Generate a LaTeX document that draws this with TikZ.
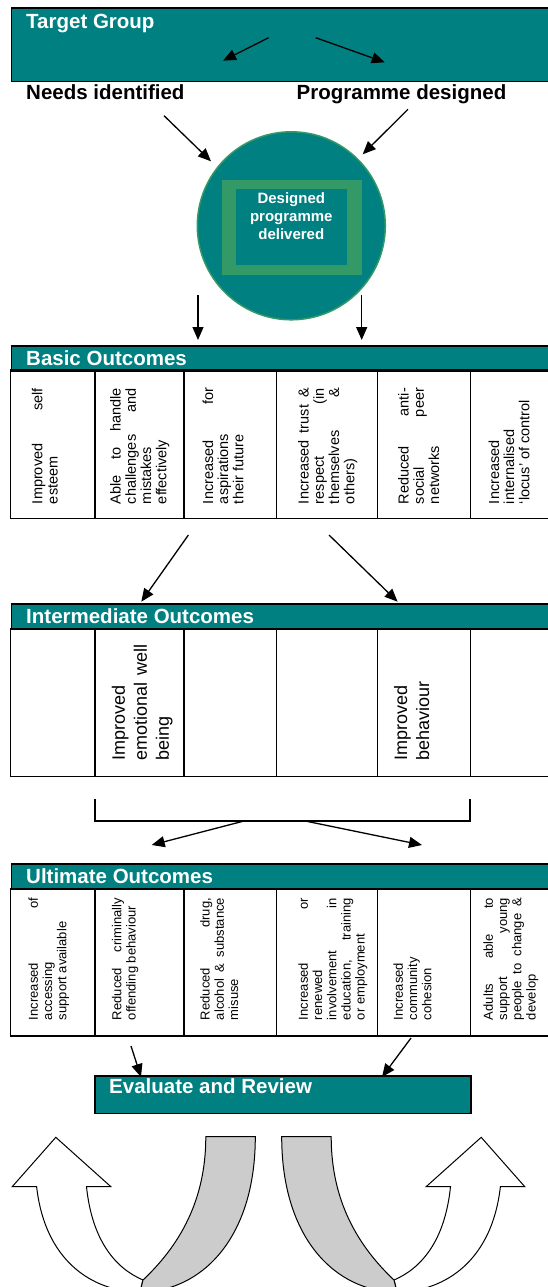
\documentclass[tikz,border=0pt]{standalone}
\usepackage{fontspec}
\setmainfont{Liberation Sans}
\usepackage{graphicx}
\usetikzlibrary{positioning,calc,arrows.meta,shapes}

\definecolor{boxteal}{RGB}{0,128,128}
\definecolor{framegreen}{RGB}{51,153,102}
\definecolor{ribbongray}{RGB}{204,204,204}

\tikzset{
    bar/.style={draw=black, line width=1.5pt, fill=boxteal, anchor=north west, inner sep=0pt},
    bartext/.style={anchor=base west, inner sep=0pt, text=white, font=\fontsize{20.5}{24}\selectfont\bfseries},
    plaintext/.style={anchor=base west, inner sep=0pt, font=\fontsize{20.5}{24}\selectfont\bfseries},
    flow/.style={line width=1.3pt, -{Triangle[length=13pt,width=11pt]}},
    cell/.style={rotate=90, anchor=north, inner sep=0pt, align=justify},
    basiccell/.style={cell, text width=116pt, font=\fontsize{14.5}{15.2}\selectfont},
    midcell/.style={cell, text width=116pt, font=\fontsize{18}{22}\selectfont},
    lastcell/.style={cell, text width=122pt, font=\fontsize{13}{14.2}\selectfont},
    ribbon/.style={draw=black, line width=1pt},
}

\begin{document}
\begin{tikzpicture}[x=1pt, y=-1pt]
    \useasboundingbox (0,0) rectangle (547,1287);

    \node[bar, minimum width=560pt, minimum height=73.5pt] (target) at (10.5,7.5) {};
    \node[bartext] (targetlabel) at (26,28.3) {Target Group};
    \node[plaintext] (needs) at (26,100) {Needs identified};
    \node[plaintext] (designed) at (296.5,100) {Programme designed};

    \node[circle, draw=framegreen, line width=1.5pt, fill=boxteal, minimum size=188pt, inner sep=0pt] (delivery) at (291.3,225.8) {};
    \node[fill=framegreen, minimum width=140pt, minimum height=94.7pt, inner sep=0pt] (frame) at (291.6,227.7) {};
    \node[fill=boxteal, minimum width=111pt, minimum height=76pt, inner sep=0pt] (core) at (291.5,227) {};
    \node[align=center, text=white, font=\fontsize{15}{18}\selectfont\bfseries, inner sep=0pt] (corelabel) at (291.3,215.7) {Designed\\programme\\delivered};

    \foreach \name/\title/\top/\bot in {basic/Basic Outcomes/345/518.3, mid/Intermediate Outcomes/603.3/776.7, last/Ultimate Outcomes/863.3/1036} {
        \node[bar, minimum width=560pt, minimum height=25pt] (\name head) at (10.5,\top) {};
        \node[bartext] (\name title) at (26,\top+20) {\title};
        \draw[line width=1.5pt] (10.5,\top+25) rectangle (570.5,\bot);
        \foreach \x in {95,184,276.6,377.4,470.5}
            \draw[line width=1.5pt] (\x,\top+25) -- (\x,\bot);
    }

    \node[basiccell] (b1) at (31.7,446) {Improved\hfill self\\esteem};
    \node[basiccell] (b2) at (110,446) {Able\hfill to\hfill handle\\challenges\hfill and\\mistakes\\effectively};
    \node[basiccell] (b3) at (202.3,446) {Increased\hfill for\\aspirations\\their future};
    \node[basiccell] (b4) at (298,446) {Increased\hfill trust\hfill \&\\respect\hfill (in\\themselves\hfill \&\\others)};
    \node[basiccell] (b5) at (398,446) {Reduced\hfill anti-\\social\hfill peer\\networks};
    \node[basiccell] (b6) at (488.3,446) {Increased\\internalised\\`locus' of control};

    \node[midcell] (m2) at (111.6,702.5) {Improved\\emotional\hfill well\\being};
    \node[midcell] (m5) at (394,702.5) {Improved\\behaviour};

    \node[lastcell] (u1) at (28.3,959) {Increased\hfill of\\accessing\\support available};
    \node[lastcell] (u2) at (111.7,959) {Reduced\hfill criminally\\offending behaviour};
    \node[lastcell] (u3) at (200,959) {Reduced\hfill drug,\\alcohol\hfill \&\hfill substance\\misuse};
    \node[lastcell] (u4) at (298.3,959) {Increased\hfill or\\renewed\\involvement\hfill in\\education,\hfill training\\or employment};
    \node[lastcell] (u5) at (393.3,959) {Increased\\community\\cohesion};
    \node[lastcell] (u6) at (483.3,959) {Adults\hfill able\hfill to\\support\hfill young\\people\hfill to\hfill change\hfill \&\\develop};

    \draw[line width=1.5pt] (95,799.3) -- (95,821) -- (470.2,821) -- (470.2,799.3);

    \node[bar, minimum width=376pt, minimum height=37.7pt] (review) at (94.2,1075) {};
    \node[bartext] (reviewlabel) at (109,1093) {Evaluate and Review};

    \coordinate (t0) at (268.6,37.7);
    \coordinate (t1) at (223,60.7);
    \coordinate (t2) at (315.7,37.7);
    \coordinate (t3) at (384.7,62.3);
    \coordinate (c0) at (164,115.7);
    \coordinate (c1) at (211,161.3);
    \coordinate (c2) at (408,109.3);
    \coordinate (c3) at (362.7,154.3);
    \coordinate (d0) at (198,295);
    \coordinate (d1) at (198,340);
    \coordinate (d2) at (361.7,295);
    \coordinate (d3) at (361.7,340);
    \coordinate (i0) at (188.4,535);
    \coordinate (i1) at (141.3,601.7);
    \coordinate (i2) at (329,535);
    \coordinate (i3) at (397.6,601.7);
    \coordinate (k0) at (244,821);
    \coordinate (k1) at (151.7,845);
    \coordinate (k2) at (305.2,821);
    \coordinate (k3) at (422,845);
    \coordinate (e0) at (131,1046);
    \coordinate (e1) at (141,1077);
    \coordinate (e2) at (411,1038);
    \coordinate (e3) at (382,1077);

    \foreach \a/\b in {t0/t1, t2/t3, c0/c1, c2/c3, d0/d1, d2/d3, i0/i1, i2/i3, k0/k1, k2/k3, e0/e1, e2/e3}
        \draw[flow] (\a) -- (\b);

    \foreach \s/\o in {1/0, -1/537} {
        \begin{scope}[xshift=\o pt, xscale=\s]
            \draw[ribbon, fill=white] (55.8,1137.3) -- (110.9,1186.7) -- (86.5,1186.7) .. controls (92,1240) and (115,1268) .. (143,1280) -- (140,1292) .. controls (100,1292) and (46,1268) .. (36.6,1186.7) -- (12.2,1186.7) -- cycle;
            \draw[ribbon, fill=ribbongray] (205.8,1136.7) -- (255.3,1136.7) .. controls (255.3,1240) and (200,1292) .. (140,1292) -- (143,1280) .. controls (180,1245) and (205.8,1200) .. (205.8,1136.7) -- cycle;
        \end{scope}
    }
\end{tikzpicture}
\end{document}
